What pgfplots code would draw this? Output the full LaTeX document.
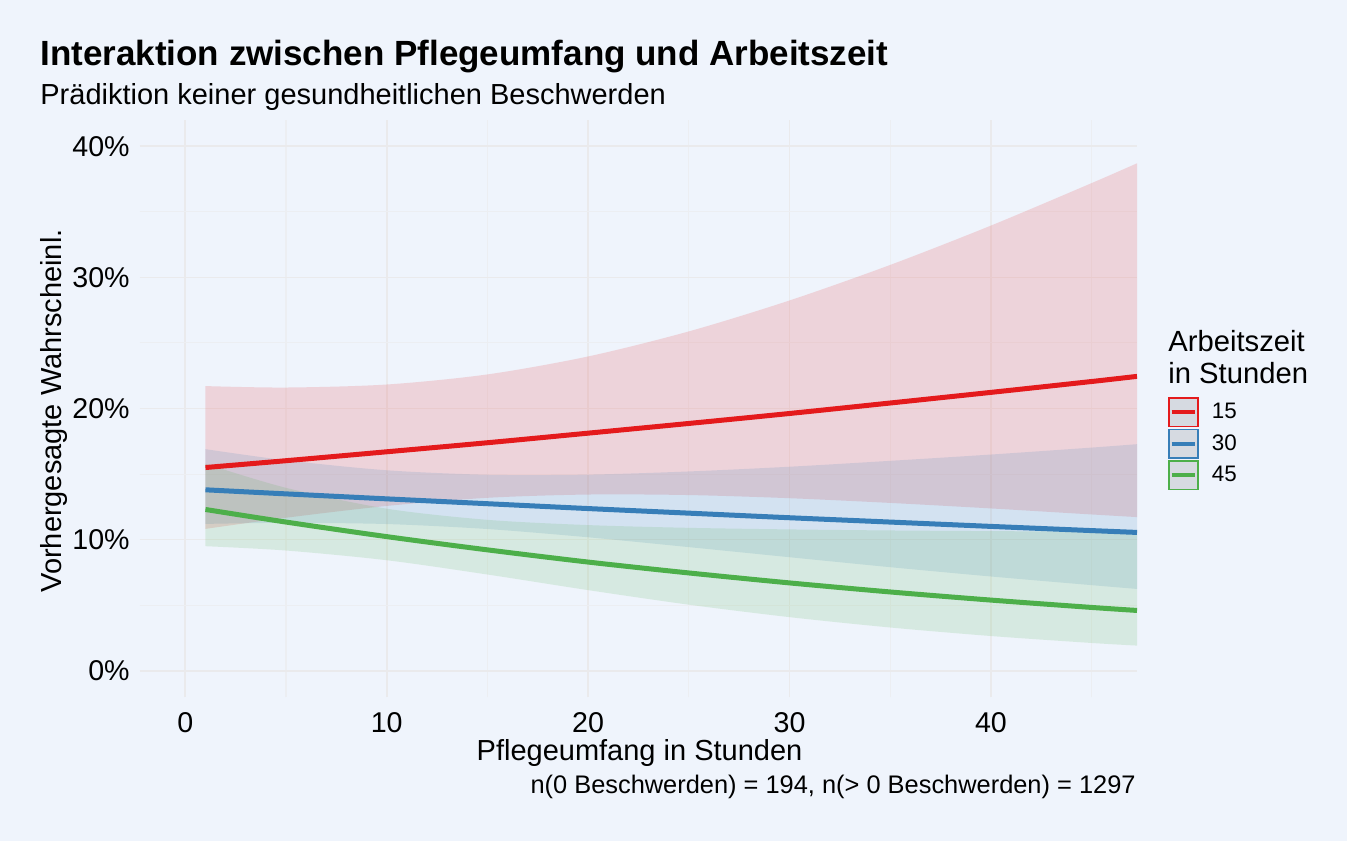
\documentclass[border=0pt]{standalone}
\usepackage{fontspec}
\setmainfont{Liberation Sans}
\usepackage{pgfplots}
\pgfplotsset{compat=1.18}
\usepgfplotslibrary{fillbetween}
\usepackage{pgfplotstable}

\definecolor{bg}{RGB}{239,244,252}
\definecolor{gridmaj}{RGB}{234,234,236}
\definecolor{gridmin}{RGB}{236,238,242}
\definecolor{c15}{HTML}{E41A1C}
\definecolor{c30}{HTML}{377EB8}
\definecolor{c45}{HTML}{4DAF4A}
\definecolor{keyfill}{RGB}{214,218,225}
\pagecolor{bg}

% Arbeitszeit 15 Stunden
\pgfplotstableread{
x y lo hi
1 15.50 10.82 21.71
5 16.02 11.67 21.60
10 16.70 12.57 21.83
15 17.39 13.19 22.60
20 18.12 13.44 23.97
25 18.86 13.40 25.88
30 19.62 13.16 28.24
35 20.42 12.80 30.95
40 21.23 12.38 33.95
45 22.06 11.92 37.19
47.25 22.45 11.72 38.70
}\tabA
% Arbeitszeit 30 Stunden
\pgfplotstableread{
x y lo hi
1 13.80 11.20 16.90
5 13.49 11.28 16.05
10 13.11 11.19 15.29
15 12.74 10.81 14.95
20 12.37 10.18 14.96
25 12.02 9.43 15.20
30 11.67 8.66 15.56
35 11.34 7.90 16.01
40 11.01 7.19 16.49
45 10.69 6.53 17.02
47.25 10.55 6.24 17.28
}\tabB
% Arbeitszeit 45 Stunden
\pgfplotstableread{
x y lo hi
1 12.30 9.50 15.79
5 11.34 9.17 13.95
10 10.23 8.43 12.36
15 9.22 7.34 11.51
20 8.29 6.15 11.11
25 7.46 5.04 10.90
30 6.70 4.09 10.78
35 6.01 3.30 10.70
40 5.39 2.65 10.65
45 4.83 2.12 10.61
47.25 4.60 1.92 10.60
}\tabC

\pgfplotsset{mykey/.style={legend image code/.code={
  \draw[draw=#1, fill=keyfill, line width=0.8pt] (0pt,-7.2pt) rectangle (14.6pt,7.2pt);
  \draw[draw=#1, line width=2.2pt] (1.4pt,0pt) -- (13.2pt,0pt);
}}}

\begin{document}
\begin{tikzpicture}
\begin{axis}[
  at={(0pt,0pt)}, anchor=south west,
  scale only axis, width=498.5pt, height=288.5pt,
  xmin=-2.25, xmax=47.25, ymin=-2, ymax=42,
  axis line style={draw=none},
  major tick length=0pt, minor tick length=0pt,
  xtick={0,10,20,30,40}, ytick={0,10,20,30,40},
  minor xtick={5,15,25,35,45}, minor ytick={5,15,25,35},
  xticklabels={0,10,20,30,40},
  yticklabels={0\%,10\%,20\%,30\%,40\%},
  xmajorgrids, ymajorgrids, xminorgrids, yminorgrids,
  major grid style={draw=gridmaj, line width=0.85pt},
  minor grid style={draw=gridmin, line width=0.55pt},
  xticklabel style={font=\fontsize{14.3}{17}\selectfont, anchor=north, inner sep=0pt, yshift=-7.5pt},
  yticklabel style={font=\fontsize{14.3}{17}\selectfont, anchor=east, inner sep=0pt, xshift=-5pt},
  xlabel={Pflegeumfang in Stunden},
  ylabel={Vorhergesagte Wahrscheinl.},
  xlabel style={at={(axis description cs:0.501,-0.1092)}, anchor=base, inner sep=0pt, font=\fontsize{14.5}{17}\selectfont},
  ylabel style={at={(axis description cs:-0.0792,0.4957)}, anchor=base, inner sep=0pt, font=\fontsize{14.5}{17}\selectfont},
  legend style={at={(axis description cs:1.0311,0.5199)}, anchor=north west,
    draw=none, fill=none, inner sep=0pt, outer sep=0pt,
    row sep=0.55pt, column sep=6.5pt,
    font=\fontsize{11.2}{13}\selectfont,
    nodes={inner sep=0pt}},
  legend cell align=left,
]
% bands
\addplot[name path=u15, draw=none, smooth, forget plot] table[x=x,y=hi]{\tabA};
\addplot[name path=l15, draw=none, smooth, forget plot] table[x=x,y=lo]{\tabA};
\addplot[fill=c15, fill opacity=0.15, draw=none, forget plot] fill between[of=u15 and l15];
\addplot[name path=u30, draw=none, smooth, forget plot] table[x=x,y=hi]{\tabB};
\addplot[name path=l30, draw=none, smooth, forget plot] table[x=x,y=lo]{\tabB};
\addplot[fill=c30, fill opacity=0.15, draw=none, forget plot] fill between[of=u30 and l30];
\addplot[name path=u45, draw=none, smooth, forget plot] table[x=x,y=hi]{\tabC};
\addplot[name path=l45, draw=none, smooth, forget plot] table[x=x,y=lo]{\tabC};
\addplot[fill=c45, fill opacity=0.15, draw=none, forget plot] fill between[of=u45 and l45];
% lines
\addplot[c15, line width=2.5pt, smooth, forget plot] table[x=x,y=y]{\tabA};
\addplot[c30, line width=2.5pt, smooth, forget plot] table[x=x,y=y]{\tabB};
\addplot[c45, line width=2.5pt, smooth, forget plot] table[x=x,y=y]{\tabC};
% legend
\addlegendimage{mykey=c15}\addlegendentry{15}
\addlegendimage{mykey=c30}\addlegendentry{30}
\addlegendimage{mykey=c45}\addlegendentry{45}
\end{axis}
% titles
\node[anchor=base west, inner sep=0pt, font=\fontsize{17.5}{21}\selectfont\bfseries] at (-50pt,315.5pt) {Interaktion zwischen Pflegeumfang und Arbeitszeit};
\node[anchor=base west, inner sep=0pt, font=\fontsize{14.5}{17}\selectfont] at (-50pt,296pt) {Prädiktion keiner gesundheitlichen Beschwerden};
\node[anchor=base east, inner sep=0pt, font=\fontsize{12.7}{15}\selectfont] at (498pt,-48pt) {n(0 Beschwerden) = 194, n(> 0 Beschwerden) = 1297};
% legend title
\node[anchor=base west, inner sep=0pt, font=\fontsize{14.6}{17}\selectfont] at (514pt,172.65pt) {Arbeitszeit};
\node[anchor=base west, inner sep=0pt, font=\fontsize{14.6}{17}\selectfont] at (514pt,156.85pt) {in Stunden};
% page extent
\path (-70pt,-72pt) rectangle (603.5pt,348.5pt);
\end{tikzpicture}
\end{document}
